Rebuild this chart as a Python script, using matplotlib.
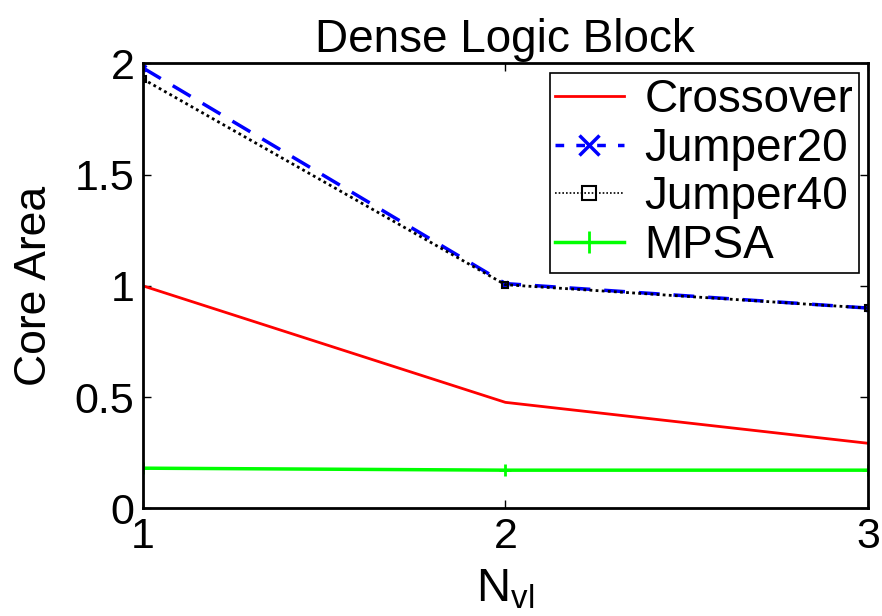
import matplotlib
matplotlib.use("Agg")
import matplotlib.pyplot as plt

plt.rcParams["font.family"] = ["Liberation Sans", "DejaVu Sans"]
plt.rcParams["mathtext.fontset"] = "custom"
plt.rcParams["mathtext.rm"] = "Liberation Sans"
plt.rcParams["mathtext.it"] = "Liberation Sans"

# data
n_vl = [1, 2, 3]
crossover = [1.0, 0.476, 0.292]
jumper20 = [1.98, 1.01, 0.90]
jumper40 = [1.93, 1.005, 0.90]
mpsa = [0.18, 0.171, 0.171]

fig = plt.figure(figsize=(8.82, 6.16), dpi=100)
ax = fig.add_axes([0.162, 0.175, 0.822, 0.722])

ax.plot(n_vl, crossover, color="red", lw=2, label="Crossover")
ax.plot(n_vl, jumper20, color="blue", lw=2.5, ls=(0, (6, 4)),
        marker="x", ms=5, mew=2, label="Jumper20")
ax.plot(n_vl, jumper40, color="black", lw=2, ls=(0, (1, 1.2)),
        marker="s", ms=5, mfc="none", mew=1.5, label="Jumper40")
ax.plot(n_vl, mpsa, color="#00ff00", lw=2.5, marker="+", ms=9, mew=2,
        label="MPSA")

ax.set_xlim(1, 3)
ax.set_ylim(0, 2)
ax.set_xticks([1, 2, 3])
ax.set_yticks([0, 0.5, 1, 1.5, 2])
ax.set_yticklabels(["0", "0.5", "1", "1.5", "2"])
ax.tick_params(direction="in", length=6, width=1, labelsize=31,
               top=True, right=True, pad=6)
for spine in ax.spines.values():
    spine.set_linewidth(2)

ax.set_title("Dense Logic Block", fontsize=33, pad=8)
ax.set_ylabel("Core Area", fontsize=32, labelpad=14)
ax.set_xlabel(r"$\mathregular{N_{vl}}$", fontsize=34, labelpad=8)

leg = ax.legend(loc="upper right", fontsize=33, frameon=True, fancybox=False,
                framealpha=1, edgecolor="black", handlelength=1.5,
                handletextpad=0.45, borderpad=0.12, labelspacing=0.1,
                borderaxespad=0.2)
leg.get_frame().set_linewidth(1.2)
handles = leg.legend_handles
handles[1].set_markersize(14)
handles[1].set_markeredgewidth(2.5)
handles[1].set_linestyle((0, (2.5, 3.5)))
handles[2].set_markersize(10)
handles[2].set_linewidth(1.2)
handles[3].set_markersize(16)

fig.savefig("out.png", dpi=100, facecolor="white")
